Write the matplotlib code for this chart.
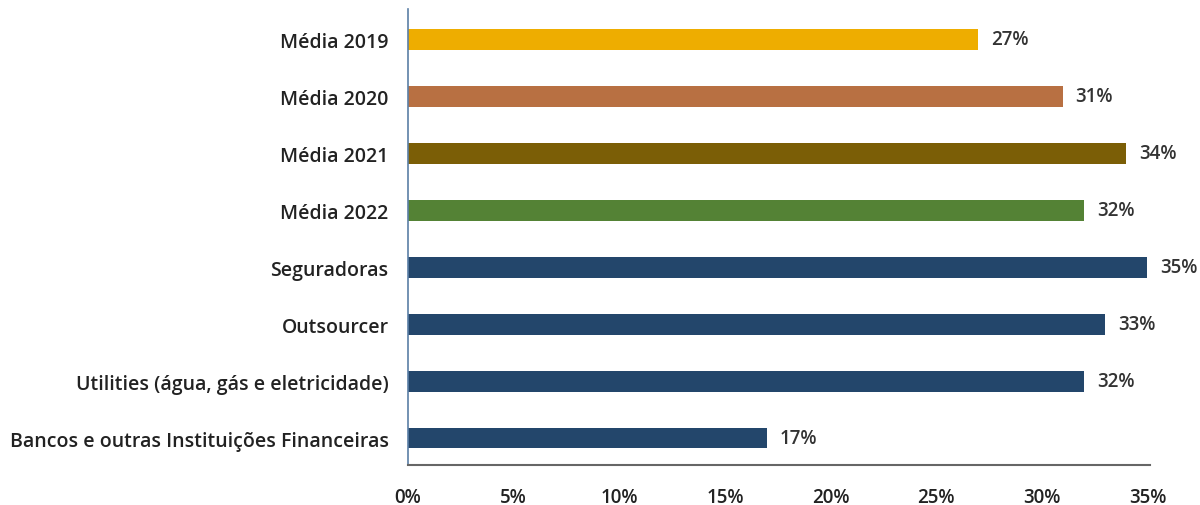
import matplotlib.pyplot as plt

plt.rcParams['font.family'] = ['Open Sans', 'DejaVu Sans']

# categories from top to bottom
categories = [
    'Média 2019',
    'Média 2020',
    'Média 2021',
    'Média 2022',
    'Seguradoras',
    'Outsourcer',
    'Utilities (água, gás e eletricidade)',
    'Bancos e outras Instituições Financeiras',
]
values = [27, 31, 34, 32, 35, 33, 32, 17]
colors = ['#EEAD00', '#B87042', '#7B5E06', '#548235',
          '#23466B', '#23466B', '#23466B', '#23466B']
xticks = [0, 5, 10, 15, 20, 25, 30, 35]

fig = plt.figure(figsize=(12, 5.06), dpi=100)
ax = fig.add_axes([0.34, 0.079, 0.618, 0.901])

ypos = list(range(len(categories) - 1, -1, -1))
ax.barh(ypos, values, height=0.36, color=colors)

for y, v in zip(ypos, values):
    ax.text(v + 0.6, y, f'{v}%', va='center', ha='left',
            fontsize=13.5, color='#333333', fontweight='semibold')

ax.set_yticks(ypos)
ax.set_yticklabels(categories, fontsize=14, color='#222222',
                   fontweight='semibold')
ax.set_xticks(xticks)
ax.set_xticklabels([f'{t}%' for t in xticks], fontsize=13.5, color='#222222',
                   fontweight='semibold')
ax.set_xlim(0, 35.1)
ax.set_ylim(-0.47, 7.53)

ax.tick_params(axis='both', length=0)
ax.tick_params(axis='y', pad=14)
ax.tick_params(axis='x', pad=16)

ax.spines['top'].set_visible(False)
ax.spines['right'].set_visible(False)
ax.spines['left'].set_color('#5B7FA6')
ax.spines['left'].set_linewidth(1.2)
ax.spines['bottom'].set_color('#666666')
ax.spines['bottom'].set_linewidth(1.5)

fig.savefig('out.png', dpi=100)
